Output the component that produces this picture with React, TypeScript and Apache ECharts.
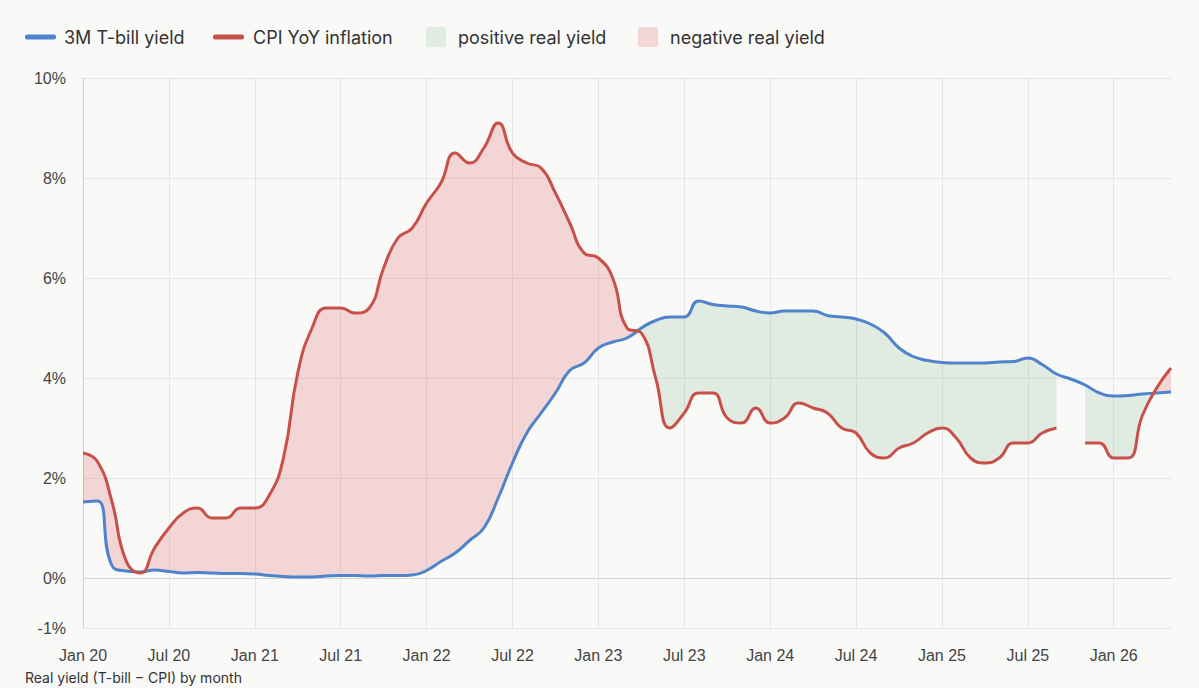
import React, { useEffect, useRef } from "react";
import * as echarts from "echarts";

// ---------- data ----------
const MONTH_NAMES = ["Jan", "Feb", "Mar", "Apr", "May", "Jun", "Jul", "Aug", "Sep", "Oct", "Nov", "Dec"];
const YEARS = [2020, 2021, 2022, 2023, 2024, 2025, 2026];
const LAST_MONTH_OF_2026 = 5; // May 2026

const categories: string[] = [];
YEARS.forEach((y) => {
  const n = y === 2026 ? LAST_MONTH_OF_2026 : 12;
  for (let m = 0; m < n; m++) categories.push(`${MONTH_NAMES[m]} ${String(y).slice(2)}`);
});

// 3M T-bill yield, % (monthly, Jan 2020 – May 2026)
const tbillYield: number[] = [
  // 2020
  1.52, 1.54, 0.26, 0.14, 0.12, 0.16, 0.13, 0.1, 0.11, 0.1, 0.09, 0.09,
  // 2021
  0.08, 0.05, 0.03, 0.02, 0.02, 0.04, 0.05, 0.05, 0.04, 0.05, 0.05, 0.06,
  // 2022
  0.15, 0.33, 0.5, 0.75, 1.0, 1.6, 2.3, 2.9, 3.3, 3.7, 4.15, 4.3,
  // 2023
  4.6, 4.72, 4.8, 5.0, 5.15, 5.22, 5.22, 5.54, 5.47, 5.44, 5.42, 5.34,
  // 2024
  5.3, 5.34, 5.34, 5.34, 5.25, 5.22, 5.18, 5.08, 4.9, 4.6, 4.43, 4.35,
  // 2025
  4.31, 4.3, 4.3, 4.3, 4.32, 4.33, 4.4, 4.27, 4.08, 3.98, 3.86, 3.7,
  // 2026
  3.64, 3.65, 3.68, 3.7, 3.72,
];

// CPI YoY inflation, % (Oct 2025 missing)
const cpiInflation: (number | null)[] = [
  // 2020
  2.5, 2.33, 1.55, 0.35, 0.1, 0.6, 1.0, 1.3, 1.4, 1.2, 1.2, 1.4,
  // 2021
  1.4, 1.65, 2.4, 4.1, 5.0, 5.4, 5.4, 5.3, 5.4, 6.2, 6.8, 7.0,
  // 2022
  7.5, 7.9, 8.5, 8.3, 8.6, 9.1, 8.5, 8.3, 8.2, 7.7, 7.1, 6.5,
  // 2023
  6.4, 6.0, 5.0, 4.9, 4.0, 3.0, 3.3, 3.7, 3.7, 3.2, 3.1, 3.4,
  // 2024
  3.1, 3.2, 3.5, 3.4, 3.3, 3.0, 2.9, 2.5, 2.4, 2.6, 2.7, 2.9,
  // 2025
  3.0, 2.8, 2.4, 2.3, 2.4, 2.7, 2.7, 2.9, 3.0, null, 2.7, 2.7,
  // 2026
  2.4, 2.4, 3.25, 3.8, 4.2,
];

const yTickValues = [-1, 0, 2, 4, 6, 8, 10];
const legendLabels = ["3M T-bill yield", "CPI YoY inflation", "positive real yield", "negative real yield"];
const footnote = "Real yield (T-bill − CPI) by month";

// ---------- styles ----------
const BG = "#f9f9f7";
const BLUE = "#4f83cc";
const RED = "#c8504a";
const GREEN_FILL = "rgba(100,170,120,0.17)";
const RED_FILL = "rgba(220,100,100,0.24)";
const FONT = "Inter, 'Liberation Sans', sans-serif";
const AXIS_FONT = "'Liberation Sans', Arial, sans-serif";

export default function App() {
  const ref = useRef<HTMLDivElement>(null);

  useEffect(() => {
    if (!ref.current) return;
    const chart = echarts.init(ref.current, undefined, { renderer: "svg" });

    const base = tbillYield.map((t, i) => {
      const c = cpiInflation[i];
      return c == null ? null : Math.min(t, c);
    });
    const posDiff = tbillYield.map((t, i) => (base[i] == null ? null : t - (base[i] as number)));
    const negDiff = cpiInflation.map((c, i) => (c == null || base[i] == null ? null : c - (base[i] as number)));

    const hidden = {
      type: "line" as const,
      symbol: "none",
      smooth: true,
      silent: true,
      lineStyle: { opacity: 0 },
      stackStrategy: "all" as const,
    };

    const legendY = 37;
    chart.setOption({
      animation: false,
      backgroundColor: BG,
      grid: { left: 83, right: 28, top: 78, bottom: 60 },
      xAxis: {
        type: "category",
        data: categories,
        boundaryGap: false,
        axisLine: { show: true, lineStyle: { color: "#d6d6d4" } },
        axisTick: { show: false },
        axisLabel: {
          interval: (i: number) => i % 6 === 0,
          color: "#444",
          fontSize: 16,
          fontFamily: AXIS_FONT,
          margin: 19,
        },
        splitLine: {
          show: true,
          interval: (i: number) => i % 6 === 0,
          lineStyle: { color: "#e6e6e4", width: 1 },
        },
      },
      yAxis: {
        type: "value",
        min: -1,
        max: 10,
        axisLine: { show: true, lineStyle: { color: "#cfcfcd" } },
        axisTick: { show: false, customValues: yTickValues },
        axisLabel: {
          customValues: yTickValues,
          formatter: (v: number) => `${v}%`,
          color: "#444",
          fontSize: 16,
          fontFamily: AXIS_FONT,
          margin: 17,
        },
        splitLine: { show: true, lineStyle: { color: "#e6e6e4", width: 1 } },
      },
      graphic: [
        { type: "rect", shape: { x: 25, y: legendY - 2.5, width: 31, height: 5, r: 2 }, style: { fill: BLUE } },
        { type: "text", x: 64, y: legendY, style: { text: legendLabels[0], fill: "#333", fontSize: 18, fontFamily: FONT, verticalAlign: "middle" } },
        { type: "rect", shape: { x: 213, y: legendY - 2.5, width: 31, height: 5, r: 2 }, style: { fill: RED } },
        { type: "text", x: 253, y: legendY, style: { text: legendLabels[1], fill: "#333", fontSize: 18, fontFamily: FONT, verticalAlign: "middle" } },
        { type: "rect", shape: { x: 426, y: legendY - 10, width: 20, height: 20, r: 2 }, style: { fill: "#e0ece3" } },
        { type: "text", x: 458, y: legendY, style: { text: legendLabels[2], fill: "#333", fontSize: 18, fontFamily: FONT, verticalAlign: "middle" } },
        { type: "rect", shape: { x: 638, y: legendY - 10, width: 20, height: 20, r: 2 }, style: { fill: "#f4d8d8" } },
        { type: "text", x: 670, y: legendY, style: { text: legendLabels[3], fill: "#333", fontSize: 18, fontFamily: FONT, verticalAlign: "middle" } },
        { type: "text", x: 25, y: 670, style: { text: footnote, fill: "#333", fontSize: 14, fontFamily: FONT, verticalAlign: "top" } },
      ],
      series: [
        { ...hidden, name: "posBase", stack: "pos", data: base },
        {
          ...hidden,
          name: legendLabels[2],
          stack: "pos",
          data: posDiff,
          areaStyle: { color: GREEN_FILL, opacity: 1 },
        },
        { ...hidden, name: "negBase", stack: "neg", data: base },
        {
          ...hidden,
          name: legendLabels[3],
          stack: "neg",
          data: negDiff,
          areaStyle: { color: RED_FILL, opacity: 1 },
        },
        {
          name: legendLabels[0],
          type: "line",
          data: tbillYield,
          smooth: true,
          symbol: "none",
          lineStyle: { color: BLUE, width: 3 },
          itemStyle: { color: BLUE },
          z: 5,
        },
        {
          name: legendLabels[1],
          type: "line",
          data: cpiInflation,
          smooth: true,
          connectNulls: false,
          symbol: "none",
          lineStyle: { color: RED, width: 3 },
          itemStyle: { color: RED },
          z: 6,
        },
      ],
    });

    return () => chart.dispose();
  }, []);

  return (
    <div
      ref={ref}
      style={{ position: "absolute", left: 0, top: 0, width: 1199, height: 688, background: BG, overflow: "hidden" }}
    />
  );
}
